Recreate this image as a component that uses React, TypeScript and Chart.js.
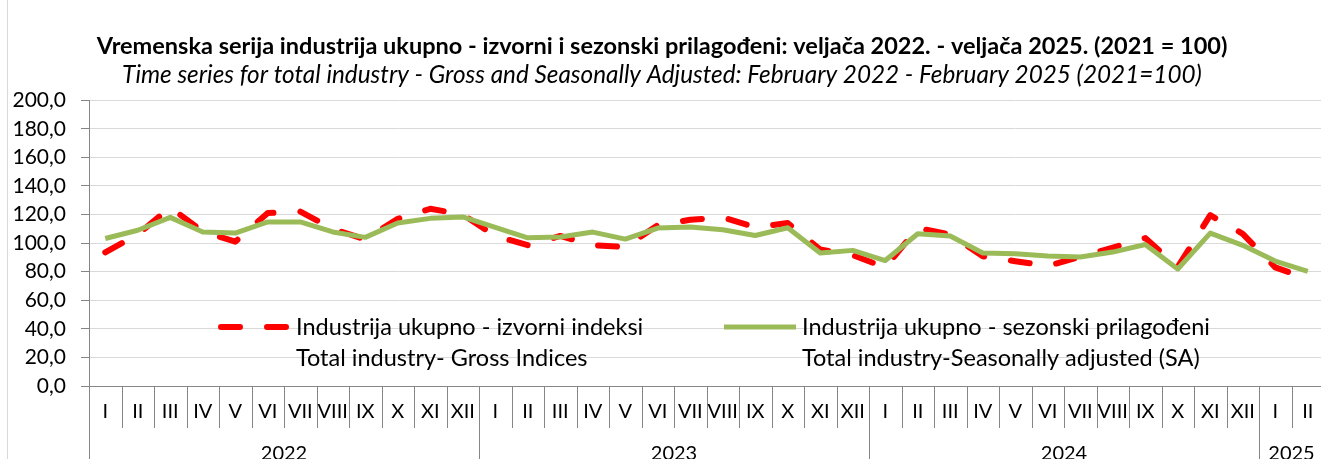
import React, { useEffect, useRef } from 'react';
import { Chart, registerables } from 'chart.js';

Chart.register(...registerables);

// ---------- data ----------
const monthLabels: string[] = [
  'I', 'II', 'III', 'IV', 'V', 'VI', 'VII', 'VIII', 'IX', 'X', 'XI', 'XII',
  'I', 'II', 'III', 'IV', 'V', 'VI', 'VII', 'VIII', 'IX', 'X', 'XI', 'XII',
  'I', 'II', 'III', 'IV', 'V', 'VI', 'VII', 'VIII', 'IX', 'X', 'XI', 'XII',
  'I', 'II',
];
const yearLabels: string[] = ['2022', '2023', '2024', '2025'];
const monthsPerYear: number[] = [12, 12, 12, 2];

const grossIndices: number[] = [
  93.5, 106, 125, 108, 101, 121, 122, 110, 102.5, 117, 124, 120,
  105, 98.5, 105, 98.5, 97.2, 112.5, 116.3, 118, 111, 114, 95.5, 91.5,
  83, 110.5, 106, 90.8, 87.3, 84, 90.5, 96.8, 103.5, 83.3, 119.5, 106.5,
  83, 75,
];
const seasonallyAdjusted: number[] = [
  103.2, 109, 118, 107.8, 107, 114.8, 114.8, 107.8, 104, 114, 117.3, 118.3,
  111, 103.7, 104.2, 107.7, 102.8, 110.5, 111.3, 109.3, 105.3, 110.7, 93, 94.9,
  87.8, 106.5, 104.9, 93, 92.6, 91, 90.2, 93.7, 99, 81.9, 107, 98.4,
  87.4, 80.2,
];

const seriesNamesHr: string[] = [
  'Industrija ukupno - izvorni indeksi',
  'Industrija ukupno - sezonski prilagođeni',
];
const seriesNamesEn: string[] = [
  'Total industry- Gross Indices',
  'Total industry-Seasonally adjusted (SA)',
];

const titleHr =
  'Vremenska serija industrija ukupno - izvorni i sezonski prilagođeni: veljača 2022. - veljača 2025. (2021 = 100)';
const titleEn =
  'Time series for total industry - Gross and Seasonally Adjusted: February 2022 - February 2025 (2021=100)';

const yMin = 0;
const yMax = 200;
const yStep = 20;

// ---------- styles ----------
const FONT = 'Lato, "Open Sans", sans-serif';
const AXIS_COLOR = '#868686';
const GRID_COLOR = '#d9d9d9';
const RED = '#ff0000';
const GREEN = '#9bbb59';

const W = 1324;
const H = 459;

const decorPlugin = {
  id: 'decor',
  beforeDraw(chart: any) {
    const ctx = chart.ctx;
    ctx.save();
    ctx.strokeStyle = GRID_COLOR;
    ctx.lineWidth = 1;
    ctx.beginPath();
    ctx.moveTo(7.5, 0);
    ctx.lineTo(7.5, chart.height);
    ctx.stroke();
    ctx.restore();
  },
  afterDraw(chart: any) {
    const { ctx, chartArea } = chart;
    const x = chart.scales.x;
    const bottom = chartArea.bottom;
    const n = monthLabels.length;
    const half = (x.getPixelForValue(1) - x.getPixelForValue(0)) / 2;

    const yearStarts = new Set<number>();
    let acc = 0;
    monthsPerYear.forEach((m) => {
      yearStarts.add(acc);
      acc += m;
    });

    ctx.save();
    ctx.strokeStyle = AXIS_COLOR;
    ctx.lineWidth = 1;
    for (let i = 0; i <= n; i++) {
      const px = i < n ? x.getPixelForValue(i) - half : x.getPixelForValue(n - 1) + half;
      const bx = Math.round(px) + 0.5;
      const isYear = yearStarts.has(i);
      ctx.beginPath();
      ctx.moveTo(bx, bottom);
      ctx.lineTo(bx, isYear ? chart.height : bottom + 42);
      ctx.stroke();
    }

    ctx.fillStyle = '#000';
    ctx.textAlign = 'center';
    ctx.textBaseline = 'middle';
    ctx.font = `20px ${FONT}`;
    monthLabels.forEach((m, i) => {
      ctx.fillText(m, x.getPixelForValue(i), bottom + 26);
    });

    let start = 0;
    yearLabels.forEach((yl, k) => {
      const cnt = monthsPerYear[k];
      const cx = (x.getPixelForValue(start) + x.getPixelForValue(start + cnt - 1)) / 2;
      ctx.fillText(yl, cx, bottom + 68);
      start += cnt;
    });

    // legend
    const legendPos = [
      { sx: 218, tx: 296 },
      { sx: 724, tx: 802 },
    ];
    const y1 = 327;
    const y2 = 358;
    chart.data.datasets.forEach((ds: any, i: number) => {
      const p = legendPos[i];
      ctx.save();
      ctx.strokeStyle = ds.borderColor;
      ctx.lineWidth = ds.borderWidth;
      ctx.lineCap = ds.borderCapStyle || 'butt';
      ctx.setLineDash(ds.borderDash || []);
      ctx.beginPath();
      const capPad = ds.borderCapStyle === 'round' ? ds.borderWidth / 2 : 0;
      ctx.moveTo(p.sx + capPad, y1);
      ctx.lineTo(p.sx + 72 - capPad, y1);
      ctx.stroke();
      ctx.restore();
      ctx.fillStyle = '#000';
      ctx.textAlign = 'left';
      ctx.textBaseline = 'middle';
      ctx.font = `23.5px ${FONT}`;
      ctx.fillText(seriesNamesHr[i], p.tx, y1);
      ctx.fillText(seriesNamesEn[i], p.tx, y2);
    });
    ctx.restore();
  },
};

export default function App() {
  const canvasRef = useRef<HTMLCanvasElement | null>(null);

  useEffect(() => {
    const canvas = canvasRef.current;
    if (!canvas) return;
    const chart = new Chart(canvas, {
      type: 'line',
      data: {
        labels: monthLabels,
        datasets: [
          {
            label: seriesNamesHr[0],
            data: grossIndices,
            borderColor: RED,
            backgroundColor: RED,
            borderWidth: 6,
            borderDash: [19, 27],
            borderCapStyle: 'round',
            borderJoinStyle: 'round',
            pointRadius: 0,
            tension: 0,
            order: 2,
          },
          {
            label: seriesNamesHr[1],
            data: seasonallyAdjusted,
            borderColor: GREEN,
            backgroundColor: GREEN,
            borderWidth: 5,
            borderJoinStyle: 'round',
            pointRadius: 0,
            tension: 0,
            order: 1,
          },
        ],
      },
      options: {
        animation: false,
        responsive: false,
        maintainAspectRatio: false,
        devicePixelRatio: 1,
        layout: { padding: { left: 0, right: 0, top: 0, bottom: 0 } },
        plugins: {
          legend: { display: false },
          tooltip: { enabled: false },
          title: {
            display: true,
            text: titleHr,
            color: '#000',
            font: { family: FONT, size: 23.5, weight: 'bold', lineHeight: 1.2 },
            padding: { top: 31.9, bottom: 0 },
          },
          subtitle: {
            display: true,
            text: titleEn,
            color: '#000',
            font: { family: FONT, size: 24.3, style: 'italic', lineHeight: 1.2 },
            padding: { top: 0.3, bottom: 10.6 },
          },
        },
        scales: {
          x: {
            type: 'category',
            offset: true,
            grid: { display: false },
            border: { display: true, color: AXIS_COLOR, width: 1 },
            ticks: { display: false },
            afterFit(scale: any) {
              scale.height = 73;
            },
          },
          y: {
            min: yMin,
            max: yMax,
            ticks: {
              stepSize: yStep,
              color: '#000',
              padding: 15,
              font: { family: FONT, size: 21 },
              callback: (v: any) => Number(v).toFixed(1).replace('.', ','),
            },
            grid: { color: GRID_COLOR, tickColor: AXIS_COLOR, tickLength: 8 },
            border: { display: true, color: AXIS_COLOR, width: 1 },
            afterFit(scale: any) {
              scale.width = 89;
            },
          },
        },
      },
      plugins: [decorPlugin],
    });
    return () => chart.destroy();
  }, []);

  return (
    <div
      style={{
        position: 'absolute',
        left: 0,
        top: 0,
        width: 1321,
        height: 459,
        overflow: 'hidden',
        background: '#fff',
      }}
    >
      <canvas ref={canvasRef} width={W} height={H} style={{ width: W, height: H, display: 'block' }} />
    </div>
  );
}
